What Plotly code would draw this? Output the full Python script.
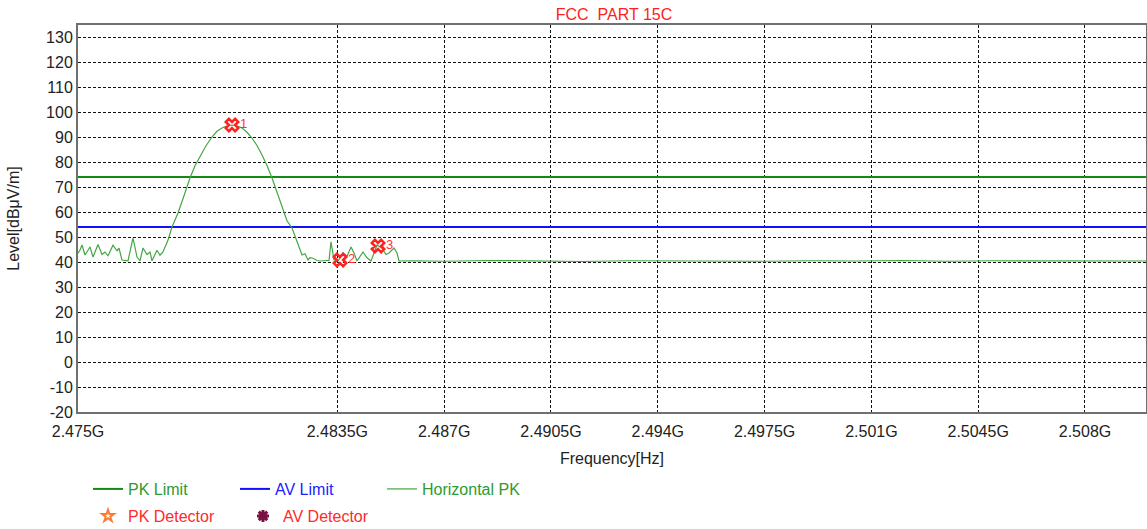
import plotly.graph_objects as go

# ---- data (frequencies in MHz, levels in dBuV/m) ----
freq_mhz = [2475.000, 2475.066, 2475.131, 2475.229, 2475.393, 2475.492, 2475.655, 2475.787,
            2475.885, 2475.983, 2476.147, 2476.278, 2476.344, 2476.442, 2476.639, 2476.802,
            2476.934, 2477.032, 2477.130, 2477.261, 2477.360, 2477.425, 2477.589, 2477.687,
            2477.786, 2477.950, 2478.081, 2478.277, 2478.474, 2478.670, 2478.834, 2478.998,
            2479.195, 2479.391, 2479.555, 2479.719, 2479.883, 2480.047, 2480.211, 2480.375,
            2480.538, 2480.702, 2480.866, 2481.030, 2481.194, 2481.358, 2481.522, 2481.718,
            2481.849, 2482.013, 2482.177, 2482.341, 2482.439, 2482.538, 2482.603, 2482.701,
            2482.833, 2482.931, 2483.160, 2483.226, 2483.291, 2483.357, 2483.390, 2483.521,
            2483.685, 2483.816, 2483.947, 2484.045, 2484.143, 2484.340, 2484.471, 2484.602,
            2484.700, 2484.799, 2484.963, 2485.094, 2485.192, 2485.356, 2485.454, 2485.520,
            2486.000, 2487.000, 2488.500, 2490.000, 2491.500, 2493.000, 2494.500, 2496.000,
            2497.500, 2499.000, 2500.500, 2502.000, 2503.500, 2505.000, 2506.500, 2508.000,
            2510.000]
level = [43.5, 44.8, 46.8, 42.8, 46.0, 42.0, 47.0, 43.0,
         44.0, 42.5, 46.7, 44.5, 45.5, 40.8, 40.5, 49.6,
         42.0, 40.5, 45.6, 43.0, 44.0, 40.5, 44.7, 42.7,
         44.0, 48.8, 54.0, 59.6, 66.5, 73.6, 78.5, 82.0,
         86.5, 90.0, 92.3, 93.6, 94.5, 94.8, 94.5, 93.6,
         91.9, 89.6, 86.6, 82.8, 78.6, 73.6, 67.6, 60.8,
         56.5, 53.6, 48.0, 42.8, 43.3, 40.8, 41.7, 41.5,
         40.6, 40.4, 40.6, 40.6, 48.1, 42.0, 40.8, 40.4,
         43.6, 42.3, 46.0, 43.6, 40.4, 44.0, 41.7, 40.4,
         43.6, 46.8, 45.5, 43.0, 43.6, 45.6, 43.6, 40.4,
         40.5, 40.3, 40.6, 40.4, 40.2, 40.5, 40.4, 40.6,
         40.3, 40.5, 40.4, 40.6, 40.3, 40.5, 40.4, 40.6,
         40.4]

pk_limit = 74.0
av_limit = 54.0

marker_freq_mhz = [2480.047, 2483.586, 2484.832]
marker_level = [94.8, 40.8, 46.4]
marker_labels = ["1", "2", "3"]

tick_mhz = [2475.0, 2483.5, 2487.0, 2490.5, 2494.0, 2497.5, 2501.0, 2504.5, 2508.0]
tick_text = ["2.475G", "2.4835G", "2.487G", "2.4905G", "2.494G", "2.4975G", "2.501G", "2.5045G", "2.508G"]
y_ticks = [-20, -10, 0, 10, 20, 30, 40, 50, 60, 70, 80, 90, 100, 110, 120, 130]
y_tick_text = ["-20", "-10", "0", "10", "20", "30", "40", "50", "60", "70", "80", "90", "100", "110", "120", "130"]

x_range_mhz = [2475.0, 2510.0]
y_range = [-20, 134.8]

FONT = "Arial, Liberation Sans, sans-serif"
FS = 16
GREEN_TRACE = "#45a545"
GREEN_LIMIT = "#138a13"
BLUE = "#1010ff"

hz = lambda v: v * 1e6

fig = go.Figure()

fig.add_trace(go.Scatter(
    x=[hz(x_range_mhz[0]), hz(x_range_mhz[1])], y=[pk_limit, pk_limit],
    mode="lines", line=dict(color=GREEN_LIMIT, width=2),
    name="<span style='color:#2e9a2e'>PK Limit</span>", legend="legend"))
fig.add_trace(go.Scatter(
    x=[hz(x_range_mhz[0]), hz(x_range_mhz[1])], y=[av_limit, av_limit],
    mode="lines", line=dict(color=BLUE, width=2),
    name="<span style='color:#2020ff'>AV Limit</span>", legend="legend"))
fig.add_trace(go.Scatter(
    x=[hz(f) for f in freq_mhz], y=level,
    mode="lines", line=dict(color=GREEN_TRACE, width=1.2),
    name="<span style='color:#2e9a2e'>Horizontal PK</span>", legend="legend"))

fig.add_trace(go.Scatter(
    x=[hz(f) for f in marker_freq_mhz], y=marker_level,
    mode="markers+text", text=marker_labels, textposition="middle right",
    textfont=dict(color="#ff3030", size=13, family=FONT),
    marker=dict(symbol="x-open", size=11, color="#ff2020", line=dict(width=2.5, color="#ff2020")),
    showlegend=False))

fig.add_trace(go.Scatter(
    x=[None], y=[None], mode="markers",
    marker=dict(symbol="star-open", size=9, color="#ff7a30", line=dict(width=2, color="#ff7a30")),
    name="<span style='color:#ff2a2a'>PK Detector</span>", legend="legend2"))
fig.add_trace(go.Scatter(
    x=[None], y=[None], mode="markers",
    marker=dict(symbol="asterisk", size=10, color="#7a1040", line=dict(width=3, color="#7a1040")),
    name="<span style='color:#ff2a2a'>AV Detector</span>", legend="legend2"))

fig.update_layout(
    width=1147, height=529,
    margin=dict(l=78, r=1, t=25, b=117, autoexpand=False),
    paper_bgcolor="white", plot_bgcolor="white",
    font=dict(family=FONT, size=FS, color="#222222"),
    title=dict(text="FCC  PART 15C", x=614 / 1147, xref="container", xanchor="center",
               y=1 - 14 / 529, yref="container", yanchor="middle",
               font=dict(color="#ff2020", size=FS, family=FONT)),
    legend=dict(orientation="h", xref="container", yref="container",
                x=88 / 1147, y=(529 - 489) / 529, xanchor="left", yanchor="middle",
                entrywidth=102, font=dict(size=FS, family=FONT), bgcolor="rgba(0,0,0,0)",
                itemwidth=30),
    legend2=dict(orientation="h", xref="container", yref="container",
                 x=88 / 1147, y=(529 - 516) / 529, xanchor="left", yanchor="middle",
                 entrywidth=110, font=dict(size=FS, family=FONT), bgcolor="rgba(0,0,0,0)",
                 itemwidth=30),
)

fig.update_xaxes(
    range=[hz(x_range_mhz[0]), hz(x_range_mhz[1])],
    tickvals=[hz(t) for t in tick_mhz], ticktext=tick_text,
    showgrid=True, gridcolor="#111111", griddash="3px,2px", gridwidth=1,
    showline=True, linecolor="#707070", linewidth=2, mirror=True,
    ticks="", zeroline=False, ticklabelstandoff=4,
    tickfont=dict(size=FS, color="#222222"),
    title=dict(text="Frequency[Hz]", standoff=14, font=dict(size=FS, color="#222222")),
)
fig.update_yaxes(
    range=y_range, tickvals=y_ticks, ticktext=y_tick_text,
    showgrid=True, gridcolor="#111111", griddash="3px,2px", gridwidth=1,
    showline=True, linecolor="#707070", linewidth=2, mirror=True,
    ticks="", zeroline=False,
    tickfont=dict(size=FS, color="#222222"),
    title=dict(text="Level[dBμV/m]", standoff=22, font=dict(size=FS, color="#222222")),
)

fig.write_html(
    "out.html",
    config={"displayModeBar": False},
    post_script="document.body.style.margin='0';document.body.style.overflow='hidden';",
)
